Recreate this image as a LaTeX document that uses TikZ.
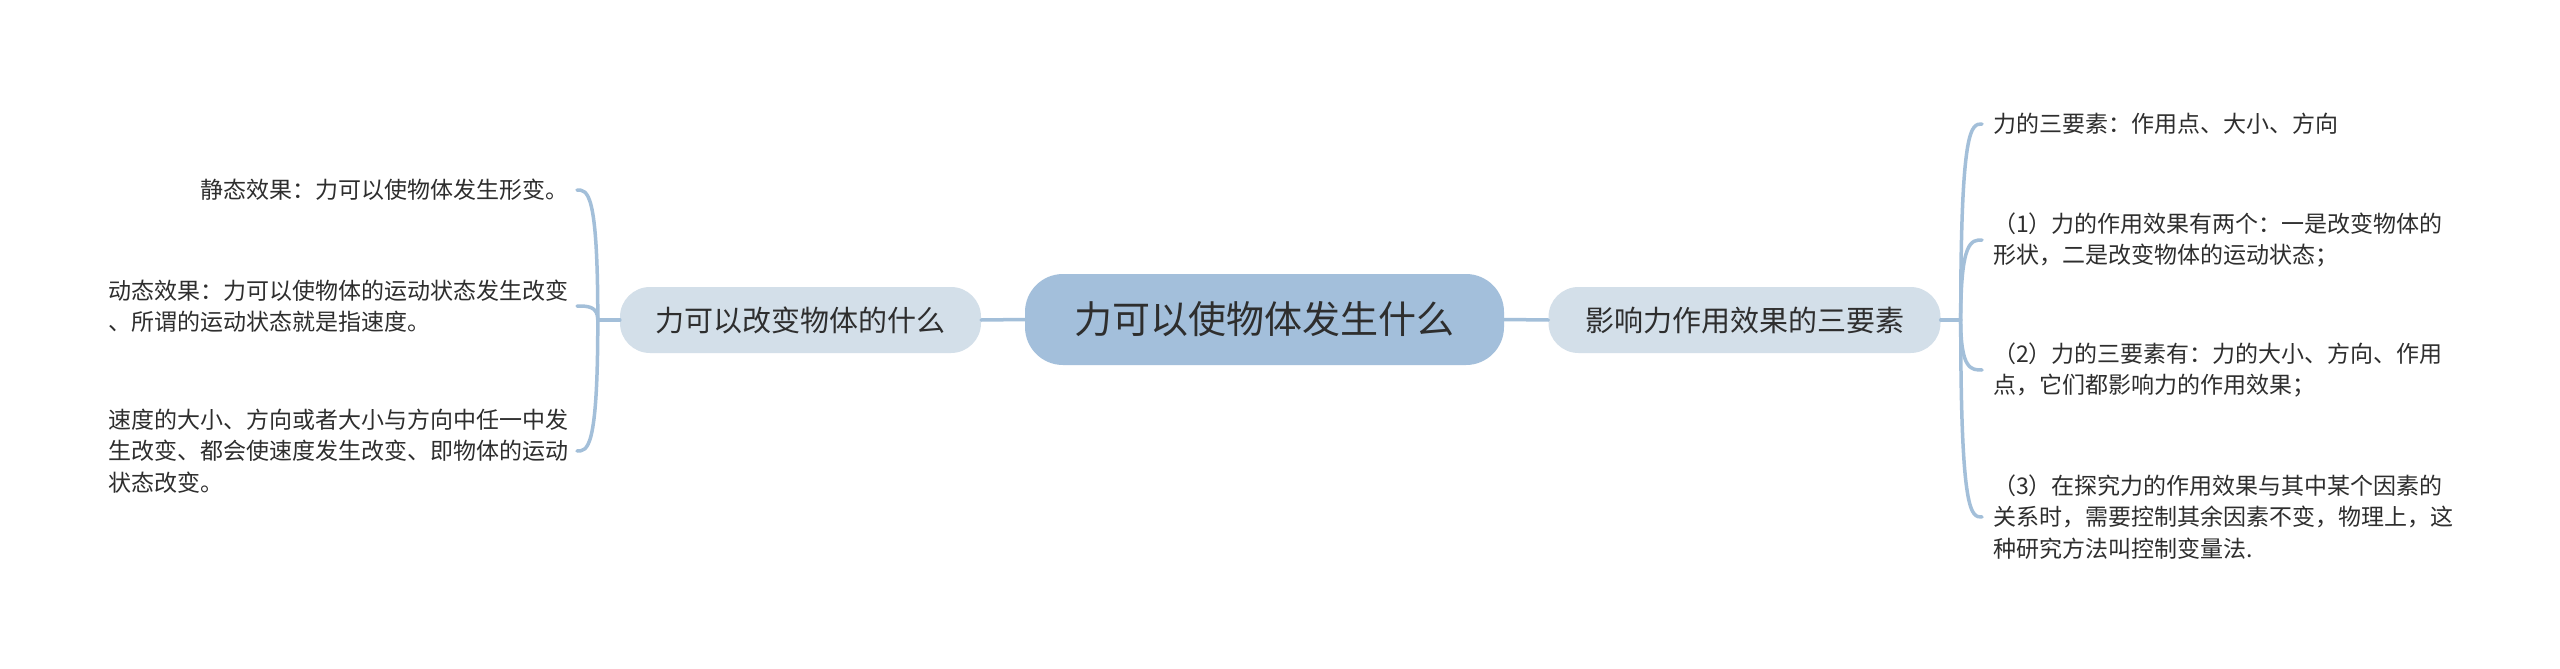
\documentclass[tikz,border=0pt]{standalone}
\usepackage{fontspec}
\setmainfont{Noto Sans CJK SC}
\usetikzlibrary{calc}
\definecolor{rootfill}{HTML}{A3BFDB}
\definecolor{subfill}{HTML}{D3DFE9}
\definecolor{linkcol}{HTML}{A3BFD9}
\definecolor{txt}{HTML}{2E2E2E}
\tikzset{
  root/.style={fill=rootfill, rounded corners=38pt, minimum width=479pt, minimum height=91pt, inner sep=0pt, font=\fontsize{38}{46}\selectfont, text=txt},
  sub/.style={fill=subfill, rounded corners=30pt, minimum height=66pt, inner sep=0pt, font=\fontsize{29}{35}\selectfont, text=txt},
  leaf/.style={inner sep=0pt, align=left, font=\fontsize{23}{31.5}\selectfont, text=txt},
  link/.style={draw=linkcol, line width=3.5pt, line cap=round},
}
\begin{document}
\begin{tikzpicture}[x=1pt,y=-1pt]
\useasboundingbox[fill=white] (0,0) rectangle (2560,669);
\node[root] (R) at (1264.5,319.5) {力可以使物体发生什么};
\node[sub, minimum width=361pt] (L) at (800.5,320) {力可以改变物体的什么};
\node[sub, minimum width=392pt] (M) at (1744.5,320) {影响力作用效果的三要素};
\node[leaf, anchor=east] (l1) at (569,190) {静态效果：力可以使物体发生形变。};
\node[leaf, anchor=east] (l2) at (569,306) {动态效果：力可以使物体的运动状态发生改变\\、所谓的运动状态就是指速度。};
\node[leaf, anchor=east] (l3) at (569,451) {速度的大小、方向或者大小与方向中任一中发\\生改变、都会使速度发生改变、即物体的运动\\状态改变。};
\node[leaf, anchor=west] (r1) at (1993,124) {力的三要素：作用点、大小、方向};
\node[leaf, anchor=west] (r2) at (1993,240) {（1）力的作用效果有两个：一是改变物体的\\形状，二是改变物体的运动状态；};
\node[leaf, anchor=west] (r3) at (1993,370) {（2）力的三要素有：力的大小、方向、作用\\点，它们都影响力的作用效果；};
\node[leaf, anchor=west] (r4) at (1993,517) {（3）在探究力的作用效果与其中某个因素的\\关系时，需要控制其余因素不变，物理上，这\\种研究方法叫控制变量法.};
\draw[link] (R.west) -- (L.east);
\draw[link] (R.east) -- (M.west);
\coordinate (Lj) at ([xshift=-22pt]L.west);
\draw[link] (L.west) -- (Lj);
\foreach \c in {l1,l2,l3} {
  \coordinate (e) at ([xshift=8pt]\c.east);
  \draw[link] (Lj) .. controls (Lj |- e) and ($(Lj |- e)!0.5!(e)$) .. (e);
}
\coordinate (Mj) at ([xshift=20pt]M.east);
\draw[link] (M.east) -- (Mj);
\foreach \c in {r1,r2,r3,r4} {
  \coordinate (e) at ([xshift=-11pt]\c.west);
  \draw[link] (Mj) .. controls (Mj |- e) and ($(Mj |- e)!0.5!(e)$) .. (e);
}
\end{tikzpicture}
\end{document}
